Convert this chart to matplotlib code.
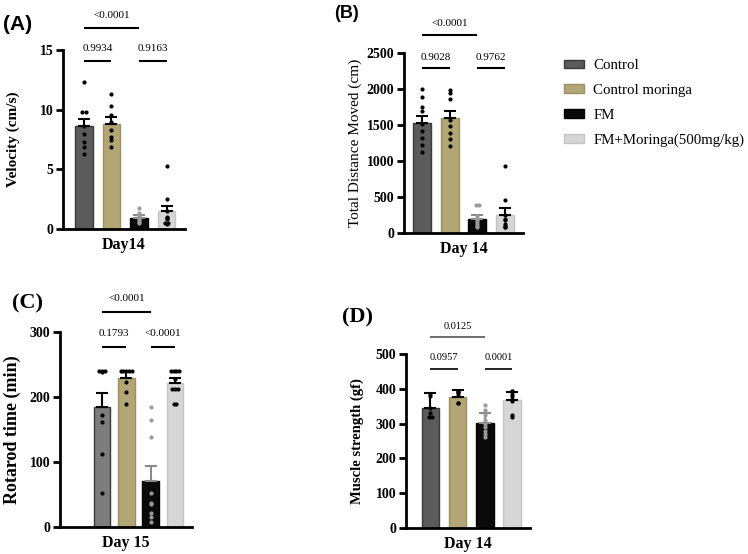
import matplotlib.pyplot as plt
from matplotlib.patches import Patch
import numpy as np

plt.rcParams['font.family'] = 'Liberation Serif'

groups = ['Control', 'Control moringa', 'FM', 'FM+Moringa(500mg/kg)']
colors = ['#5b5b5b', '#b3a676', '#0a0a0a', '#d6d6d6']
edges = ['#3a3a3a', '#9c8f60', '#000000', '#c4c4c4']
colors_c = ['#7d7d7d', '#b3a676', '#0a0a0a', '#d6d6d6']

# panel A - velocity
vel_mean = [8.63, 8.8, 0.9, 1.53]
vel_sem = [0.57, 0.56, 0.27, 0.4]
vel_pts = [[12.3, 9.8, 9.8, 8.6, 8.0, 7.3, 6.9, 6.3],
           [11.3, 10.3, 9.55, 9.0, 8.3, 7.7, 7.5, 6.9],
           [1.75, 1.3, 1.1, 0.9, 0.8, 0.7, 0.6, 0.5],
           [5.3, 2.55, 1.5, 1.0, 0.9, 0.8, 0.5, 0.5, 0.45]]

# panel B - total distance
dist_mean = [1532, 1601, 194, 250]
dist_sem = [93, 98, 56, 100]
dist_pts = [[2000, 1890, 1750, 1690, 1520, 1410, 1320, 1220, 1130],
            [1990, 1940, 1860, 1570, 1480, 1390, 1300, 1210],
            [390, 390, 230, 200, 180, 150, 130, 100, 90],
            [935, 460, 250, 200, 180, 130, 100, 90, 80]]

# panel C - rotarod
rot_mean = [185, 229.7, 71, 221]
rot_sem = [21.6, 9.3, 23, 9]
rot_pts = [[240, 240, 240, 238, 172, 162, 112, 53],
           [240, 240, 240, 240, 240, 223, 208, 190],
           [184, 165, 139, 52, 37, 35, 22, 16, 8],
           [240, 240, 240, 240, 228, 213, 213, 213, 190, 190]]

# panel D - muscle strength
mus_mean = [344, 377, 301, 368]
mus_sem = [43, 19, 29, 24]
mus_pts = [[385, 380, 345, 330, 320, 320],
           [395, 392, 390, 385, 360, 358],
           [353, 340, 325, 310, 300, 290, 280, 270, 262],
           [395, 393, 385, 380, 370, 365, 325, 318]]

W, H = 748, 554
fig = plt.figure(figsize=(W / 100, H / 100), dpi=100)


def ax_px(l, r, b, t):
    return fig.add_axes([l / W, 1 - b / H, (r - l) / W, (b - t) / H])


def draw(ax, mean, sem, pts, xlim, ylim, ticks, width, ylabel, xlabel,
         ylw='bold', ysize=11, ylpad=4, fills=colors):
    x = np.arange(4)
    ax.bar(x, mean, width=width, color=fills, edgecolor=edges, linewidth=1, zorder=2)
    for i in range(4):
        ec = '#8a8a8a' if i == 2 else 'black'
        ax.errorbar(x[i], mean[i], yerr=[[0], [sem[i]]], fmt='none', ecolor=ec,
                    elinewidth=1.5, capsize=4, capthick=1.5, zorder=3)
        p = np.array(pts[i])
        # small horizontal spread for repeated values
        xs = np.zeros(len(p))
        vals, counts = np.unique(p, return_counts=True)
        for v, c in zip(vals, counts):
            idx = np.where(p == v)[0]
            xs[idx] = (np.arange(c) - (c - 1) / 2) * 0.12
        pc = '#9a9a9a' if i == 2 else 'black'
        ax.scatter(x[i] + xs, p, s=4, color=pc, zorder=4)
    ax.set_xlim(*xlim)
    ax.set_ylim(*ylim)
    ax.set_yticks(ticks)
    ax.set_xticks([])
    for s in ['top', 'right']:
        ax.spines[s].set_visible(False)
    for s in ['left', 'bottom']:
        ax.spines[s].set_linewidth(2)
    ax.tick_params(axis='y', width=2, length=5, labelsize=10, pad=2)
    for lab in ax.get_yticklabels():
        lab.set_fontweight('bold')
    ax.set_ylabel(ylabel, fontsize=ysize, fontweight=ylw, labelpad=ylpad)
    ax.set_xlabel(xlabel, fontsize=11.5, fontweight='bold', labelpad=6)


def bracket(ax, x1, x2, y, ty, txt, color='black', lw=1.5, fs=8):
    ax.plot([x1, x2], [y, y], color=color, lw=lw, clip_on=False, solid_capstyle='butt')
    ax.text((x1 + x2) / 2, ty, txt, ha='center', va='center', fontsize=fs, clip_on=False)


# (A)
axA = ax_px(63, 185, 229, 50)
draw(axA, vel_mean, vel_sem, vel_pts, (-0.76, 3.67), (0, 15), [0, 5, 10, 15], 0.65,
     'Velocity (cm/s)', 'Day14', ylpad=14)
bracket(axA, 0, 2, 16.85, 17.85, '<0.0001')
bracket(axA, 0, 1, 14.1, 15.1, '0.9934')
bracket(axA, 2, 3, 14.1, 15.1, '0.9163')
fig.text(3 / W, 1 - 25 / H, '(A)', fontsize=15, fontweight='bold', family='Liberation Sans',
         va='center')

# (B)
axB = ax_px(404, 523, 233, 53)
draw(axB, dist_mean, dist_sem, dist_pts, (-0.65, 3.65), (0, 2500), range(0, 2501, 500), 0.65,
     'Total Distance Moved (cm)', 'Day 14', ylw='normal', ysize=11, ylpad=3)
bracket(axB, 0, 2, 2750, 2903, '<0.0001')
bracket(axB, 0, 1, 2292, 2444, '0.9028')
bracket(axB, 2, 3, 2292, 2444, '0.9762')
fig.text(334 / W, 1 - 13 / H, '(B)', fontsize=13, fontweight='bold', family='Liberation Sans',
         va='center')

# (C)
axC = ax_px(60, 192, 527, 332)
draw(axC, rot_mean, rot_sem, rot_pts, (-1.73, 3.7), (0, 300), [0, 100, 200, 300], 0.68,
     'Rotarod time (min)', 'Day 15', ysize=13, ylpad=6, fills=colors_c)
bracket(axC, 0, 2, 331, 351, '<0.0001')
bracket(axC, 0, 1, 277, 297, '0.1793')
bracket(axC, 2, 3, 277, 297, '<0.0001')
fig.text(12 / W, 1 - 303 / H, '(C)', fontsize=16, fontweight='bold', va='center')

# (D)
axD = ax_px(406, 530, 528, 354)
draw(axD, mus_mean, mus_sem, mus_pts, (-0.9, 3.66), (0, 500), range(0, 501, 100), 0.64,
     'Muscle strength (gf)', 'Day 14', ysize=10.5, ylpad=8)
bracket(axD, 0, 2, 549, 578, '0.0125', color='#555555', lw=1.2, fs=7.5)
bracket(axD, 0, 1, 457, 489, '0.0957', lw=1.2, fs=7.5)
bracket(axD, 2, 3, 457, 489, '0.0001', lw=1.2, fs=7.5)
fig.text(342 / W, 1 - 317 / H, '(D)', fontsize=16, fontweight='bold', va='center')

handles = [Patch(facecolor=c, edgecolor=e) for c, e in zip(colors, edges)]
fig.legend(handles, groups, loc='upper left', bbox_to_anchor=(557 / W, 1 - 52 / H),
           frameon=False, fontsize=10.7, handlelength=1.3, handleheight=0.52,
           handletextpad=0.65, labelspacing=0.78, borderpad=0)

fig.savefig('out.png', dpi=100)
